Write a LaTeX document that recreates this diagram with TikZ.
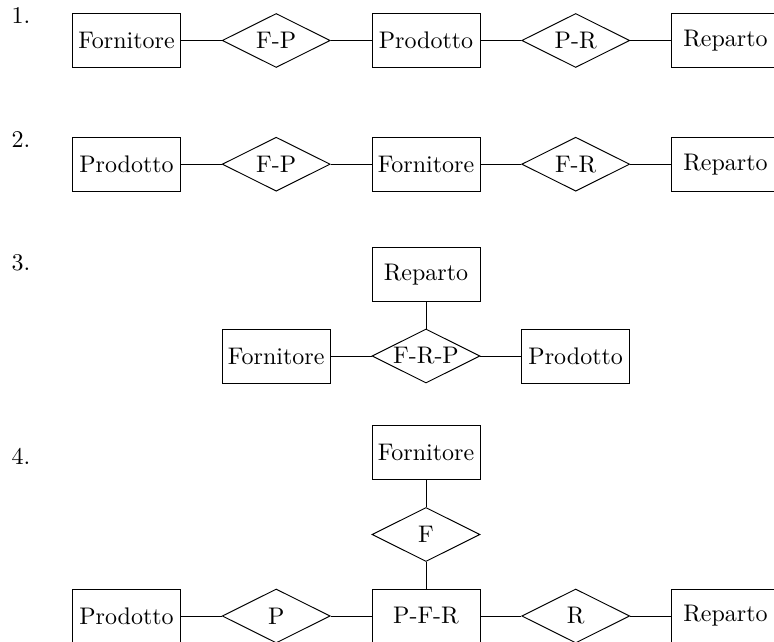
\documentclass[tikz,border=0pt]{standalone}
\usetikzlibrary{shapes.geometric}
\begin{document}
\begin{tikzpicture}[x=0.4167pt,y=-0.4167pt,
  entity/.style={draw,rectangle,minimum width=45pt,minimum height=22.5pt,inner sep=0pt},
  rel/.style={draw,diamond,aspect=2,minimum width=45pt,minimum height=22.5pt,inner sep=0pt},
  num/.style={inner sep=0pt},
  conn/.style={draw}]
\clip (0,0) rectangle (774,642);
\useasboundingbox (0,0) rectangle (774,642);
% labels
\node[num] (l1) at (21,16) {1.};
\node[num] (l2) at (21,140) {2.};
\node[num] (l3) at (21,263) {3.};
\node[num] (l4) at (21,456) {4.};
% row 1
\node[entity] (a1) at (126.5,40.5) {Fornitore};
\node[rel]    (a2) at (276.2,40.5) {F-P};
\node[entity] (a3) at (426,40.5) {Prodotto};
\node[rel]    (a4) at (575.7,40.5) {P-R};
\node[entity] (a5) at (725.5,40.5) {Reparto};
\draw[conn] (a1) -- (a2) (a2) -- (a3) (a3) -- (a4) (a4) -- (a5);
% row 2
\node[entity] (b1) at (126.5,164.2) {Prodotto};
\node[rel]    (b2) at (276.2,164.2) {F-P};
\node[entity] (b3) at (426,164.2) {Fornitore};
\node[rel]    (b4) at (575.7,164.2) {F-R};
\node[entity] (b5) at (725.5,164.2) {Reparto};
\draw[conn] (b1) -- (b2) (b2) -- (b3) (b3) -- (b4) (b4) -- (b5);
% row 3
\node[entity] (c0) at (426,274.2) {Reparto};
\node[entity] (c1) at (276.2,356) {Fornitore};
\node[rel]    (c2) at (426,356) {F-R-P};
\node[entity] (c3) at (575.7,356) {Prodotto};
\draw[conn] (c1) -- (c2) (c2) -- (c3) (c0) -- (c2);
% row 4
\node[entity] (d0) at (426,452.7) {Fornitore};
\node[rel]    (dF) at (426,534.5) {F};
\node[entity] (d1) at (126.5,616) {Prodotto};
\node[rel]    (d2) at (276.2,616) {P};
\node[entity] (d3) at (426,616) {P-F-R};
\node[rel]    (d4) at (575.7,616) {R};
\node[entity] (d5) at (725.5,616) {Reparto};
\draw[conn] (d0) -- (dF) (dF) -- (d3);
\draw[conn] (d1) -- (d2) (d2) -- (d3) (d3) -- (d4) (d4) -- (d5);
\end{tikzpicture}
\end{document}
